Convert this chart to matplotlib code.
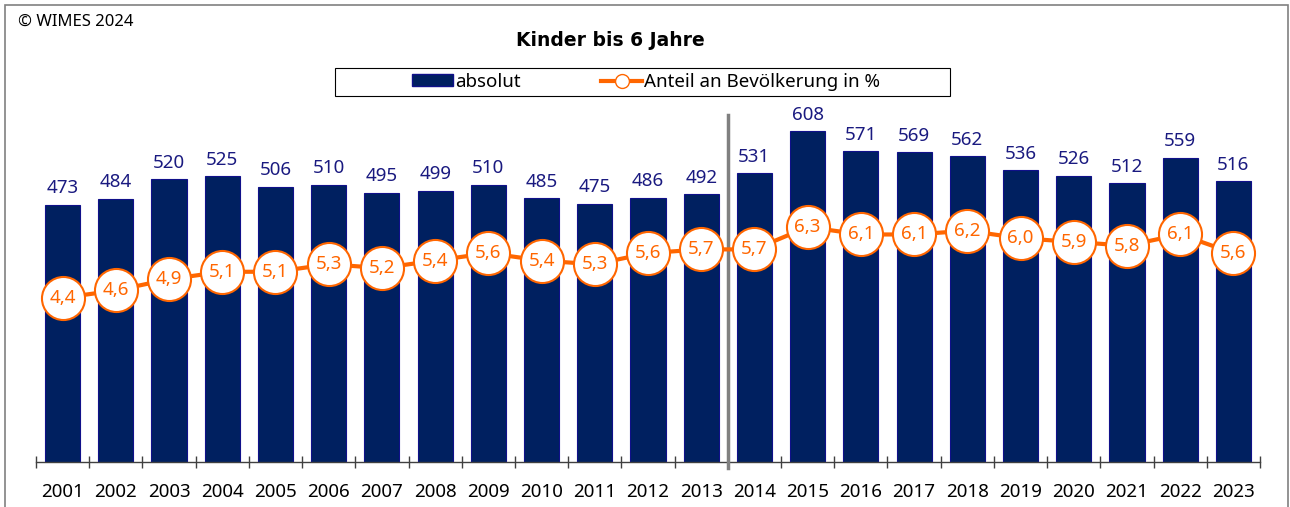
import matplotlib.pyplot as plt
from matplotlib.patches import Rectangle
from matplotlib.lines import Line2D
import numpy as np

#------------------------------------------------------------------------------
#                               DATA
years = ['2001', '2002', '2003', '2004', '2005', '2006', '2007', '2008', '2009', '2010',
         '2011', '2012', '2013', '2014', '2015', '2016', '2017', '2018', '2019', '2020',
         '2021', '2022', '2023']
absolut = [473, 484, 520, 525, 506, 510, 495, 499, 510, 485,
           475, 486, 492, 531, 608, 571, 569, 562, 536, 526,
           512, 559, 516]
anteil = [4.4, 4.6, 4.9, 5.1, 5.1, 5.3, 5.2, 5.4, 5.6, 5.4,
          5.3, 5.6, 5.7, 5.7, 6.3, 6.1, 6.1, 6.2, 6.0, 5.9,
          5.8, 6.1, 5.6]

title = 'Kinder bis 6 Jahre'
credit = '\u00a9 WIMES 2024'
legend_labels = ['absolut', 'Anteil an Bevölkerung in %']

#------------------------------------------------------------------------------
#                               STYLE
navy = '#002060'
navy_text = '#1a1a80'
orange = '#ff6600'
plt.rcParams['font.family'] = ['Noto Sans', 'DejaVu Sans']
fs = 13.5

W, H = 1290, 507
fig = plt.figure(figsize=(W / 100, H / 100), dpi=100)

# figure frame
fig.patches.append(Rectangle((5 / W, -0.02), (1288 - 5) / W, 1.02 - 5 / H,
                             transform=fig.transFigure, fill=False,
                             edgecolor='#808080', linewidth=1.2))

ax_top = 80
ax_bottom = 462
ax = fig.add_axes([36 / W, (H - ax_bottom) / H, (1260 - 36) / W, (ax_bottom - ax_top) / H])
x = np.arange(len(years))

ax.bar(x, absolut, width=0.66, color=navy, edgecolor='#10108a', linewidth=0.8, zorder=2)
for xi, v in zip(x, absolut):
    ax.text(xi, v + 14, str(v), ha='center', va='bottom', color=navy_text, fontsize=fs)

ax.set_xlim(-0.5, len(years) - 0.5)
ax.set_ylim(0, (ax_bottom - ax_top) / 0.544)
ax.set_yticks([])
for s in ['left', 'right', 'top']:
    ax.spines[s].set_visible(False)
ax.spines['bottom'].set_color('#404040')
ax.spines['bottom'].set_linewidth(1.0)

ax.set_xticks(x)
ax.set_xticklabels(years, fontsize=fs)
ax.tick_params(axis='x', which='major', length=0, pad=15)
ax.set_xticks(np.arange(-0.5, len(years)), minor=True)
ax.tick_params(axis='x', which='minor', direction='inout', length=9, width=1, color='#404040')

# separator line
ax.axvline(12.5, ymin=-0.015, ymax=(ax_bottom - 115) / (ax_bottom - ax_top),
           color='#808080', linewidth=2.5, clip_on=False, zorder=3)

ax2 = ax.twinx()
ax2.set_ylim(0, (ax_bottom - ax_top) / 37.3)
ax2.plot(x, anteil, color=orange, linewidth=3, marker='o', markersize=31,
         markerfacecolor='white', markeredgecolor=orange, markeredgewidth=1.5, zorder=4)
for xi, v in zip(x, anteil):
    ax2.text(xi, v, f'{v:.1f}'.replace('.', ','), ha='center', va='center',
             color=orange, fontsize=fs, zorder=5)
ax2.set_yticks([])
for s in ['left', 'right', 'top', 'bottom']:
    ax2.spines[s].set_visible(False)

# title and credit
fig.text(610 / W, 1 - 40 / H, title, ha='center', va='center', fontsize=13.5,
         fontweight='bold', family='DejaVu Sans')
fig.text(18 / W, 1 - 22 / H, credit, ha='left', va='center', fontsize=12)

# legend box
fig.patches.append(Rectangle((335 / W, 1 - 96 / H), (950 - 335) / W, 28 / H,
                             transform=fig.transFigure, fill=True, facecolor='white',
                             edgecolor='black', linewidth=0.8, zorder=5))
handles = [Rectangle((0, 0), 1, 1, facecolor=navy, edgecolor='#10108a'),
           Line2D([], [], color=orange, linewidth=3, marker='o', markersize=10,
                  markerfacecolor='white', markeredgecolor=orange)]
fig.legend(handles, legend_labels, loc='center', bbox_to_anchor=(646 / W, 1 - 82 / H),
           ncol=2, frameon=False, fontsize=fs, handlelength=2.2, handletextpad=0.1,
           columnspacing=4.3, handleheight=0.6)

fig.savefig('out.png', dpi=100)
